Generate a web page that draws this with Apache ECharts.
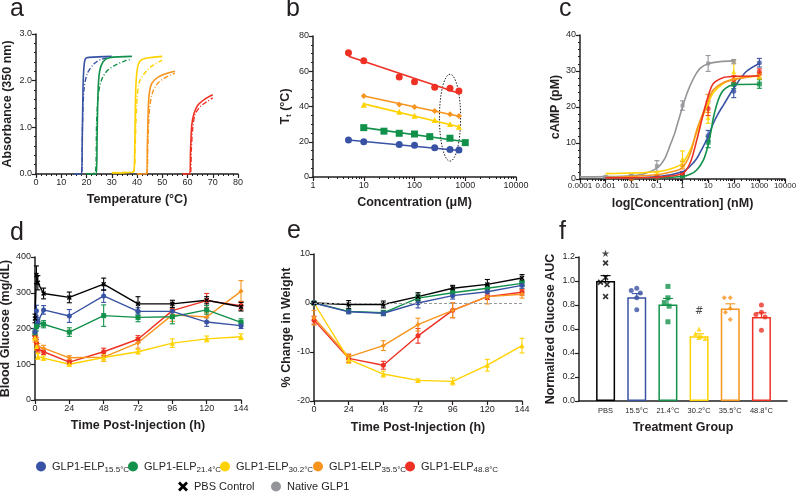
<!DOCTYPE html>
<html>
<head>
<meta charset="utf-8">
<title>GLP1-ELP depots</title>
<script src="https://cdn.jsdelivr.net/npm/echarts@6/dist/echarts.min.js"></script>
<style>
  html, body { margin: 0; padding: 0; background: #fff; }
  #main { width: 800px; height: 501px; }
</style>
</head>
<body>
<div id="main"></div>
<script>
// ---------------- data ----------------
// a: absorbance (350 nm) vs temperature, heating (solid) and cooling (dash-dot)
const aBlueHeat   = [[15,0],[18,0],[18.3,0.6],[18.6,1.8],[19,2.3],[19.6,2.47],[21,2.5],[30,2.52]];
const aBlueCool   = [[15,0],[18.1,0],[18.4,1.0],[19,1.8],[20.3,2.15],[23,2.36],[26,2.46],[30,2.5]];
const aGreenHeat  = [[20,0],[23.9,0],[24.2,0.8],[24.6,1.8],[25.2,2.2],[26.5,2.4],[29,2.49],[38,2.52]];
const aGreenCool  = [[20,0],[23.6,0.05],[24,1.1],[24.8,1.75],[26,2.02],[28,2.2],[31,2.32],[35,2.42],[38,2.46]];
const aYellowHeat = [[30,0.02],[38.7,0.05],[39.1,0.6],[39.5,1.8],[40.1,2.25],[41.2,2.42],[43.5,2.48],[50,2.52]];
const aYellowCool = [[30,0.03],[38.8,0.06],[39.3,0.6],[39.9,1.5],[40.8,1.95],[42.5,2.12],[45.5,2.3],[50,2.44]];
const aOrangeHeat = [[40,0],[43.8,0],[44.1,0.6],[44.6,1.55],[45.4,1.88],[47,2.02],[50,2.12],[55,2.2]];
const aOrangeCool = [[40,0],[43.9,0],[44.3,0.6],[44.9,1.35],[46,1.72],[48,1.93],[51,2.06],[55,2.16]];
const aRedHeat    = [[58,0],[60.9,0],[61.2,0.5],[61.7,1.05],[62.6,1.3],[64,1.47],[67,1.61],[70,1.7]];
const aRedCool    = [[58,0],[61.1,0],[61.5,0.5],[62.1,1.0],[63,1.27],[65,1.44],[68,1.56],[70,1.63]];

// b: transition temperature vs concentration (uM), points and fits
const bBlue   = [[5,21],[10,20],[50,18.5],[100,18],[250,16.6],[500,15.6],[750,15.3]];
const bGreen  = [[10,28],[25,26],[50,24.8],[100,24.4],[200,22.9],[500,22],[1000,19.5]];
const bYellow = [[10,41],[50,37],[100,34.8],[250,32.3],[500,30.1],[750,28.5]];
const bOrange = [[10,46],[50,41.2],[100,39.7],[250,37.4],[500,35.6],[750,34.6]];
const bRed    = [[5,70.5],[10,66],[50,56.8],[100,54],[250,50.9],[500,50.3],[750,48.8]];
const bBlueFit   = [[5,21],[750,15]];
const bGreenFit  = [[10,28],[1000,20]];
const bYellowFit = [[10,41.5],[750,28.5]];
const bOrangeFit = [[10,46],[750,34.5]];
const bRedFit    = [[5,68.5],[750,47.5]];
const bEllipseX = [310, 810];   // dotted ellipse extent (uM)
const bEllipseY = [9, 58.3];    // dotted ellipse extent (degC)

// c: cAMP vs concentration (nM), mean and sem, plus fitted curves
const cConc    = [0.01, 0.1, 1, 10, 100, 1000];
const cConcNat = [0.001, 0.01, 0.1, 1, 10, 100];
const cBlue    = [0.3, 0.4, 1.4, 12, 24.4, 32.3];
const cGreen   = [0.2, 0.4, 0.9, 10.2, 26.3, 26.4];
const cYellow  = [0.3, 1.2, 5.6, 17, 29.8, 28.6];
const cOrange  = [0.3, 0.8, 3.8, 21, 27.5, 28.8];
const cRed     = [0.2, 0.5, 1.5, 19.6, 27.6, 29.8];
const cNative  = [0.6, 0.9, 3.6, 20.4, 32.1, 32.6];
const cBlueSem   = [0.2, 0.3, 0.6, 1.5, 1.8, 1.2];
const cGreenSem  = [0.1, 0.2, 0.4, 1.5, 1.2, 1.2];
const cYellowSem = [0.2, 0.5, 2.2, 1.5, 3, 0.8];
const cOrangeSem = [0.2, 0.4, 1.0, 2.5, 1.2, 0.8];
const cRedSem    = [0.1, 0.3, 0.6, 2.0, 1.0, 0.8];
const cNativeSem = [0.2, 0.3, 1.5, 1.3, 2.2, 0.6];
const cBlueCurve   = [[0.001,0.3],[0.1,0.6],[1,2],[2,3.6],[3.6,5.7],[6,8.6],[10,11.8],[16,15.5],[25,18.2],[40,20.6],[100,25.2],[300,29.8],[1000,32.1]];
const cGreenCurve  = [[0.001,0.3],[0.1,0.4],[1,0.7],[2,1.3],[3.6,2.5],[6.6,5.3],[10,9.4],[13,13.3],[16,17],[25,22],[40,24.7],[100,26.2],[1000,26.3]];
const cYellowCurve = [[0.001,1.5],[0.1,2],[0.5,3.2],[1,4.4],[2,8],[3.6,13],[6.6,18],[10,21],[16,24],[40,26.6],[100,27.8],[1000,28.6]];
const cOrangeCurve = [[0.001,0.4],[0.1,1.2],[0.5,2.2],[1,3.2],[2,7],[3.6,13.6],[6.6,18.7],[10,22],[16,24.8],[40,26.8],[100,27.6],[1000,28.8]];
const cRedCurve    = [[0.001,0.3],[0.1,0.5],[1,1.5],[2,4.5],[3.6,10.8],[6.6,18.3],[10,23],[16,26.5],[40,28.2],[100,28.5],[1000,28.6]];
const cNativeCurve = [[0.0001,0.6],[0.001,0.65],[0.01,0.9],[0.03,1.4],[0.1,3],[0.2,5.6],[0.33,9.4],[0.5,12.8],[0.7,16.3],[1,20],[1.5,23.8],[2,26],[3,28.6],[5,30.8],[10,32],[30,32.6],[100,32.8]];

// d: blood glucose (mg/dL) vs time (h)
const dTime   = [0, 1, 2, 6, 24, 48, 72, 96, 120, 144];
const dPBS    = [228, 350, 328, 298, 287, 324, 269, 269, 279, 261];
const dBlue   = [190, 250, 218, 252, 235, 291, 248, 248, 218, 208];
const dGreen  = [188, 205, 215, 212, 190, 236, 231, 233, 252, 217];
const dYellow = [175, 150, 122, 117, 100, 119, 135, 159, 171, 177];
const dOrange = [170, 165, 150, 145, 118, 120, 160, 238, 232, 304];
const dRed    = [180, 160, 142, 135, 106, 135, 170, 250, 278, 264];
const dPBSSem    = [12, 25, 20, 15, 15, 17, 20, 10, 10, 12];
const dBlueSem   = [10, 15, 12, 12, 18, 18, 10, 10, 12, 8];
const dGreenSem  = [8, 12, 10, 10, 12, 30, 12, 20, 12, 10];
const dYellowSem = [8, 10, 8, 6, 5, 10, 6, 12, 8, 8];
const dOrangeSem = [8, 10, 8, 8, 6, 12, 15, 18, 12, 30];
const dRedSem    = [8, 10, 8, 8, 6, 10, 10, 20, 20, 12];

// e: % change in weight vs time (h)
const eTime   = [0, 24, 48, 72, 96, 120, 144];
const ePBS    = [0, -0.3, -0.3, 1.3, 3.0, 3.8, 5.1];
const eBlue   = [0, -1.8, -2.1, 0.0, 1.5, 2.3, 3.6];
const eGreen  = [0, -1.7, -2.0, 1.0, 2.1, 3.0, 4.0];
const eYellow = [0, -11.5, -14.5, -15.8, -16.0, -12.7, -8.7];
const eOrange = [-3.0, -11.0, -8.7, -4.4, -1.5, 1.3, 1.8];
const eRed    = [-3.5, -11.3, -12.7, -6.7, -1.5, 1.3, 2.2];
const ePBSSem    = [0.2, 0.8, 0.7, 0.8, 0.6, 1.0, 0.7];
const eBlueSem   = [0.3, 0.4, 0.5, 1.0, 0.7, 0.7, 0.6];
const eGreenSem  = [0.3, 0.4, 0.5, 0.8, 0.7, 0.6, 0.6];
const eYellowSem = [0.3, 0.8, 0.6, 0.3, 0.7, 1.2, 1.5];
const eOrangeSem = [1.5, 0.6, 1.0, 1.3, 1.5, 1.5, 0.8];
const eRedSem    = [0.8, 0.8, 0.8, 1.5, 1.5, 0.6, 0.6];

// f: normalized glucose AUC per treatment group
const fGroups = ['PBS', '15.5°C', '21.4°C', '30.2°C', '35.5°C', '48.8°C'];
const fMean = [1.0, 0.865, 0.805, 0.54, 0.77, 0.70];
const fSem  = [0.045, 0.03, 0.05, 0.02, 0.04, 0.035];
const fPBS    = [1.15, 1.03, 0.99, 0.97, 0.87];
const fBlue   = [0.94, 0.92, 0.90, 0.86, 0.76];
const fGreen  = [0.955, 0.86, 0.82, 0.79, 0.66];
const fYellow = [0.60, 0.56, 0.54, 0.53, 0.52];
const fOrange = [0.86, 0.86, 0.77, 0.74, 0.68];
const fRed    = [0.80, 0.74, 0.72, 0.70, 0.59];
const fMarks  = [[0, 1.225, '★'], [3, 0.745, '#']];

// ---------------- styling ----------------
const INK = '#231f20';
const NARROW = "'Liberation Sans Narrow','Arial Narrow','Liberation Sans',Arial,sans-serif";
const BOLD = "'Liberation Sans',Arial,sans-serif";
const X_PATH = 'path://M0,2L2,0L5,3L8,0L10,2L7,5L10,8L8,10L5,7L2,10L0,8L3,5Z';

const groups = [
  { name: 'G15.5', sub: '15.5°C', color: '#3953a4', symbol: 'circle' },
  { name: 'G21.4', sub: '21.4°C', color: '#11914a', symbol: 'rect' },
  { name: 'G30.2', sub: '30.2°C', color: '#ffd200', symbol: 'triangle' },
  { name: 'G35.5', sub: '35.5°C', color: '#f7941d', symbol: 'diamond' },
  { name: 'G48.8', sub: '48.8°C', color: '#ee3124', symbol: 'circle' }
];
const pbs = { name: 'PBS Control', color: '#000', symbol: X_PATH };
const nat = { name: 'Native GLP1', color: '#939598', symbol: 'circle' };

function axis(extra) {
  return Object.assign({
    axisLine: { show: true, onZero: false, lineStyle: { color: INK, width: 1.5 } },
    axisTick: { show: true, length: 4, lineStyle: { color: INK, width: 1.2 } },
    axisLabel: { color: INK, fontSize: 9, margin: 4, fontFamily: NARROW },
    splitLine: { show: false },
    nameLocation: 'middle',
    nameTextStyle: { fontSize: 12.5, fontWeight: 'bold', color: INK, fontFamily: BOLD }
  }, extra);
}

function errBars(idx, name, color, xs, mean, sem, cap) {
  return {
    type: 'custom', name: name, xAxisIndex: idx, yAxisIndex: idx, silent: true,
    itemStyle: { color: color },
    data: xs.map((x, i) => [x, mean[i] - sem[i], mean[i] + sem[i]]),
    encode: { x: 0, y: [1, 2] },
    renderItem: function (params, api) {
      const lo = api.coord([api.value(0), api.value(1)]);
      const hi = api.coord([api.value(0), api.value(2)]);
      const st = { stroke: color, lineWidth: 1.1 };
      return { type: 'group', children: [
        { type: 'line', shape: { x1: lo[0], y1: lo[1], x2: hi[0], y2: hi[1] }, style: st },
        { type: 'line', shape: { x1: lo[0] - cap, y1: lo[1], x2: lo[0] + cap, y2: lo[1] }, style: st },
        { type: 'line', shape: { x1: hi[0] - cap, y1: hi[1], x2: hi[0] + cap, y2: hi[1] }, style: st }
      ] };
    }
  };
}

const series = [];

// --- b first so legend icons take the solid marker colours
const bPts = [bBlue, bGreen, bYellow, bOrange, bRed];
const bFits = [bBlueFit, bGreenFit, bYellowFit, bOrangeFit, bRedFit];
const bSizes = [7, 7, 6, 6, 7];
groups.forEach((g, i) => {
  series.push({ type: 'line', name: g.name, xAxisIndex: 1, yAxisIndex: 1, data: bFits[i],
    showSymbol: false, lineStyle: { color: g.color, width: 1.6 }, itemStyle: { color: g.color }, silent: true });
  series.push({ type: 'scatter', name: g.name, xAxisIndex: 1, yAxisIndex: 1, data: bPts[i],
    symbol: g.symbol, symbolSize: bSizes[i], itemStyle: { color: g.color, opacity: 1 } });
});

// --- a
const aHeat = [aBlueHeat, aGreenHeat, aYellowHeat, aOrangeHeat, aRedHeat];
const aCool = [aBlueCool, aGreenCool, aYellowCool, aOrangeCool, aRedCool];
groups.forEach((g, i) => {
  series.push({ type: 'line', name: 'heat' + g.sub, xAxisIndex: 0, yAxisIndex: 0, data: aHeat[i],
    showSymbol: false, smooth: 0.3, lineStyle: { color: g.color, width: 1.6 }, silent: true });
  series.push({ type: 'line', name: 'cool' + g.sub, xAxisIndex: 0, yAxisIndex: 0, data: aCool[i],
    showSymbol: false, smooth: 0.3, lineStyle: { color: g.color, width: 1.4, type: [5, 2, 1, 2] }, silent: true });
});

// --- c
const cMeans = [cBlue, cGreen, cYellow, cOrange, cRed];
const cSems = [cBlueSem, cGreenSem, cYellowSem, cOrangeSem, cRedSem];
const cCurves = [cBlueCurve, cGreenCurve, cYellowCurve, cOrangeCurve, cRedCurve];
series.push({ type: 'line', name: nat.name, xAxisIndex: 2, yAxisIndex: 2, data: cNativeCurve,
  showSymbol: false, smooth: 0.3, lineStyle: { color: nat.color, width: 1.6 }, itemStyle: { color: nat.color } });
series.push(errBars(2, nat.name, nat.color, cConcNat, cNative, cNativeSem, 2.5));
series.push({ type: 'scatter', name: nat.name, xAxisIndex: 2, yAxisIndex: 2,
  data: cConcNat.map((x, i) => [x, cNative[i]]), symbol: 'rect', symbolSize: 4, itemStyle: { color: nat.color } });
groups.forEach((g, i) => {
  series.push({ type: 'line', name: g.name, xAxisIndex: 2, yAxisIndex: 2, data: cCurves[i],
    showSymbol: false, smooth: 0.3, lineStyle: { color: g.color, width: 1.6 }, itemStyle: { color: g.color } });
  series.push(errBars(2, g.name, g.color, cConc, cMeans[i], cSems[i], 2.5));
  series.push({ type: 'scatter', name: g.name, xAxisIndex: 2, yAxisIndex: 2,
    data: cConc.map((x, j) => [x, cMeans[i][j]]), symbol: g.symbol, symbolSize: 5, itemStyle: { color: g.color } });
});

// --- d and e (time courses)
function timeCourse(idx, g, xs, ys, sem) {
  series.push({ type: 'line', name: g.name, xAxisIndex: idx, yAxisIndex: idx,
    data: xs.map((x, i) => [x, ys[i]]), symbol: g.symbol, symbolSize: 5, showAllSymbol: true,
    lineStyle: { color: g.color, width: 1.4 }, itemStyle: { color: g.color } });
  series.push(errBars(idx, g.name, g.color, xs, ys, sem, 2.5));
}
const dVals = [dBlue, dGreen, dYellow, dOrange, dRed];
const dSems = [dBlueSem, dGreenSem, dYellowSem, dOrangeSem, dRedSem];
[4, 3, 2, 1, 0].forEach(i => timeCourse(3, groups[i], dTime, dVals[i], dSems[i]));
timeCourse(3, pbs, dTime, dPBS, dPBSSem);

const eVals = [eBlue, eGreen, eYellow, eOrange, eRed];
const eSems = [eBlueSem, eGreenSem, eYellowSem, eOrangeSem, eRedSem];
[4, 3, 2, 1, 0].forEach(i => timeCourse(4, groups[i], eTime, eVals[i], eSems[i]));
timeCourse(4, pbs, eTime, ePBS, ePBSSem);
series.push({ type: 'line', name: 'zero', xAxisIndex: 4, yAxisIndex: 4, data: [], silent: true,
  markLine: { silent: true, symbol: 'none', label: { show: false },
    lineStyle: { type: [3, 2], color: '#999', width: 1 }, data: [{ yAxis: 0 }] } });

// --- f
const fColors = [pbs.color].concat(groups.map(g => g.color));
series.push({ type: 'bar', name: 'AUC', xAxisIndex: 6, yAxisIndex: 6, barWidth: 19, silent: true,
  data: fMean.map((v, i) => ({ value: v, itemStyle: { color: '#fff', borderColor: fColors[i], borderWidth: 1.5 } })) });
fMean.forEach((v, i) => {
  series.push(errBars(6, 'AUCerr', fColors[i], [i], [v], [fSem[i]], 5));
});
const fPts = [fPBS, fBlue, fGreen, fYellow, fOrange, fRed];
const fSyms = [pbs].concat(groups);
fPts.forEach((pts, i) => {
  series.push({ type: 'scatter', name: fSyms[i].name, xAxisIndex: 6, yAxisIndex: 6, z: 5,
    data: pts.map(v => [i, v]), symbol: fSyms[i].symbol, symbolSize: i === 0 ? 6 : 5,
    itemStyle: { color: fColors[i] } });
});
series.push({ type: 'scatter', name: 'marks', xAxisIndex: 6, yAxisIndex: 6, data: fMarks, symbolSize: 0, clip: false,
  label: { show: true, position: 'inside', formatter: p => p.data[2], color: INK, fontSize: 10, fontFamily: "'DejaVu Sans',sans-serif" } });

// ---------------- layout ----------------
const grids = [
  { left: 36, top: 34, width: 202, height: 140 },
  { left: 313, top: 36, width: 203, height: 141 },
  { left: 580, top: 35, width: 205, height: 144 },
  { left: 35, top: 257, width: 206, height: 143 },
  { left: 314, top: 254, width: 208, height: 147 },
  { left: 579, top: 257, width: 208, height: 144 },
  { left: 590, top: 257, width: 187, height: 144 }
].map(g => Object.assign({ outerBoundsMode: 'none', containLabel: false }, g));

const xAxes = [
  axis({ gridIndex: 0, type: 'value', min: 0, max: 80, interval: 10, name: 'Temperature (°C)', nameGap: 19,
    minorTick: { show: true, splitNumber: 5, length: 2, lineStyle: { color: INK } } }),
  axis({ gridIndex: 1, type: 'log', logBase: 10, min: 1, max: 10000, name: 'Concentration (μM)', nameGap: 19,
    minorTick: { show: true, splitNumber: 9, length: 2, lineStyle: { color: INK } },
    axisLabel: { color: INK, fontSize: 9, margin: 4, fontFamily: NARROW, formatter: v => String(+(+v).toPrecision(3)) } }),
  axis({ gridIndex: 2, type: 'log', logBase: 10, min: 0.0001, max: 10000, name: 'log[Concentration] (nM)', nameGap: 18,
    minorTick: { show: true, splitNumber: 9, length: 2, lineStyle: { color: INK } },
    axisLabel: { color: INK, fontSize: 8, margin: 3, fontFamily: NARROW, formatter: v => String(+(+v).toPrecision(3)) } }),
  axis({ gridIndex: 3, type: 'value', min: 0, max: 144, interval: 24, name: 'Time Post-Injection (h)', nameGap: 19 }),
  axis({ gridIndex: 4, type: 'value', min: 0, max: 144, interval: 24, name: 'Time Post-Injection (h)', nameGap: 20 }),
  axis({ gridIndex: 5, type: 'value', min: -0.865, max: 5.8, axisTick: { show: false }, axisLabel: { show: false },
    name: 'Treatment Group', nameGap: 20 }),
  axis({ gridIndex: 6, type: 'category', data: fGroups, axisLine: { show: false }, axisTick: { show: false },
    jitter: 14, jitterOverlap: false, jitterMargin: 1,
    axisLabel: { color: INK, fontSize: 7.5, margin: 6, interval: 0, fontFamily: NARROW } })
];
const yAxes = [
  axis({ gridIndex: 0, type: 'value', min: 0, max: 3, interval: 1, name: 'Absorbance (350 nm)', nameGap: 22,
    minorTick: { show: true, splitNumber: 5, length: 2, lineStyle: { color: INK } },
    axisLabel: { color: INK, fontSize: 9, margin: 4, fontFamily: NARROW, formatter: v => v.toFixed(1) } }),
  axis({ gridIndex: 1, type: 'value', min: 0, max: 80, interval: 20, nameGap: 20,
    name: '{t|T}{s|t}{t| (°C)}',
    nameTextStyle: { rich: {
      t: { fontSize: 12.5, fontWeight: 'bold', color: INK, fontFamily: BOLD },
      s: { fontSize: 8, fontWeight: 'bold', color: INK, fontFamily: BOLD, verticalAlign: 'bottom', padding: [6, 0, 0, 0] } } },
    minorTick: { show: true, splitNumber: 4, length: 2, lineStyle: { color: INK } } }),
  axis({ gridIndex: 2, type: 'value', min: 0, max: 40, interval: 10, name: 'cAMP (pM)', nameGap: 16,
    minorTick: { show: true, splitNumber: 5, length: 2, lineStyle: { color: INK } } }),
  axis({ gridIndex: 3, type: 'value', min: 0, max: 400, interval: 100, name: 'Blood Glucose (mg/dL)', nameGap: 22 }),
  axis({ gridIndex: 4, type: 'value', min: -20, max: 10, interval: 10, name: '% Change in Weight', nameGap: 20 }),
  axis({ gridIndex: 5, type: 'value', min: 0, max: 1.2, interval: 0.2, name: 'Normalized Glucose AUC', nameGap: 22,
    axisLabel: { color: INK, fontSize: 9, margin: 4, fontFamily: NARROW, formatter: v => v.toFixed(1) } }),
  axis({ gridIndex: 6, type: 'value', min: 0, max: 1.2, show: false })
];

// legends, one per item so their spacing follows the figure
const legendItems = groups.map(g => ({ name: g.name, icon: 'circle' }))
  .concat([{ name: pbs.name, icon: X_PATH }, { name: nat.name, icon: 'circle' }]);
const legendPos = [[36, 461], [128, 461], [220, 461], [313, 461], [405, 461], [178, 481], [271, 481]];
const subOf = {};
groups.forEach(g => { subOf[g.name] = g.sub; });
const legends = legendItems.map((it, i) => ({
  data: [it], left: legendPos[i][0], top: legendPos[i][1], padding: 0, itemGap: 0,
  itemWidth: 12, itemHeight: 10, selectedMode: false,
  formatter: n => subOf[n] ? '{n|GLP1-ELP}{s|' + subOf[n] + '}' : '{n|' + n + '}',
  textStyle: { color: INK, rich: {
    n: { fontSize: 11, color: INK, fontFamily: NARROW },
    s: { fontSize: 8, color: INK, fontFamily: NARROW, verticalAlign: 'bottom', padding: [7, 0, 0, 0] } } }
}));

const letters = [['a', 10, -3], ['b', 286, -3], ['c', 559, -3], ['d', 10, 221], ['e', 287, 219], ['f', 559, 220]];

const chart = echarts.init(document.getElementById('main'), null, { renderer: 'canvas' });
chart.setOption({
  backgroundColor: '#fff',
  animation: false,
  grid: grids,
  xAxis: xAxes,
  yAxis: yAxes,
  legend: legends,
  series: series,
  graphic: letters.map((l, i) => ({
    id: 'letter' + i, type: 'text', left: l[1], top: l[2],
    style: { text: l[0], fontSize: 25, fontFamily: BOLD, fill: INK }
  }))
});

// dotted ellipse in panel b, placed through the panel's own scales
const pL = chart.convertToPixel({ gridIndex: 1 }, [bEllipseX[0], bEllipseY[0]]);
const pR = chart.convertToPixel({ gridIndex: 1 }, [bEllipseX[1], bEllipseY[1]]);
chart.setOption({
  graphic: [{
    id: 'ellipse', type: 'ellipse', silent: true,
    shape: { cx: (pL[0] + pR[0]) / 2, cy: (pL[1] + pR[1]) / 2, rx: Math.abs(pR[0] - pL[0]) / 2, ry: Math.abs(pR[1] - pL[1]) / 2 },
    style: { fill: 'none', stroke: INK, lineWidth: 1, lineDash: [1.5, 1.5] }
  }]
});
</script>
</body>
</html>
